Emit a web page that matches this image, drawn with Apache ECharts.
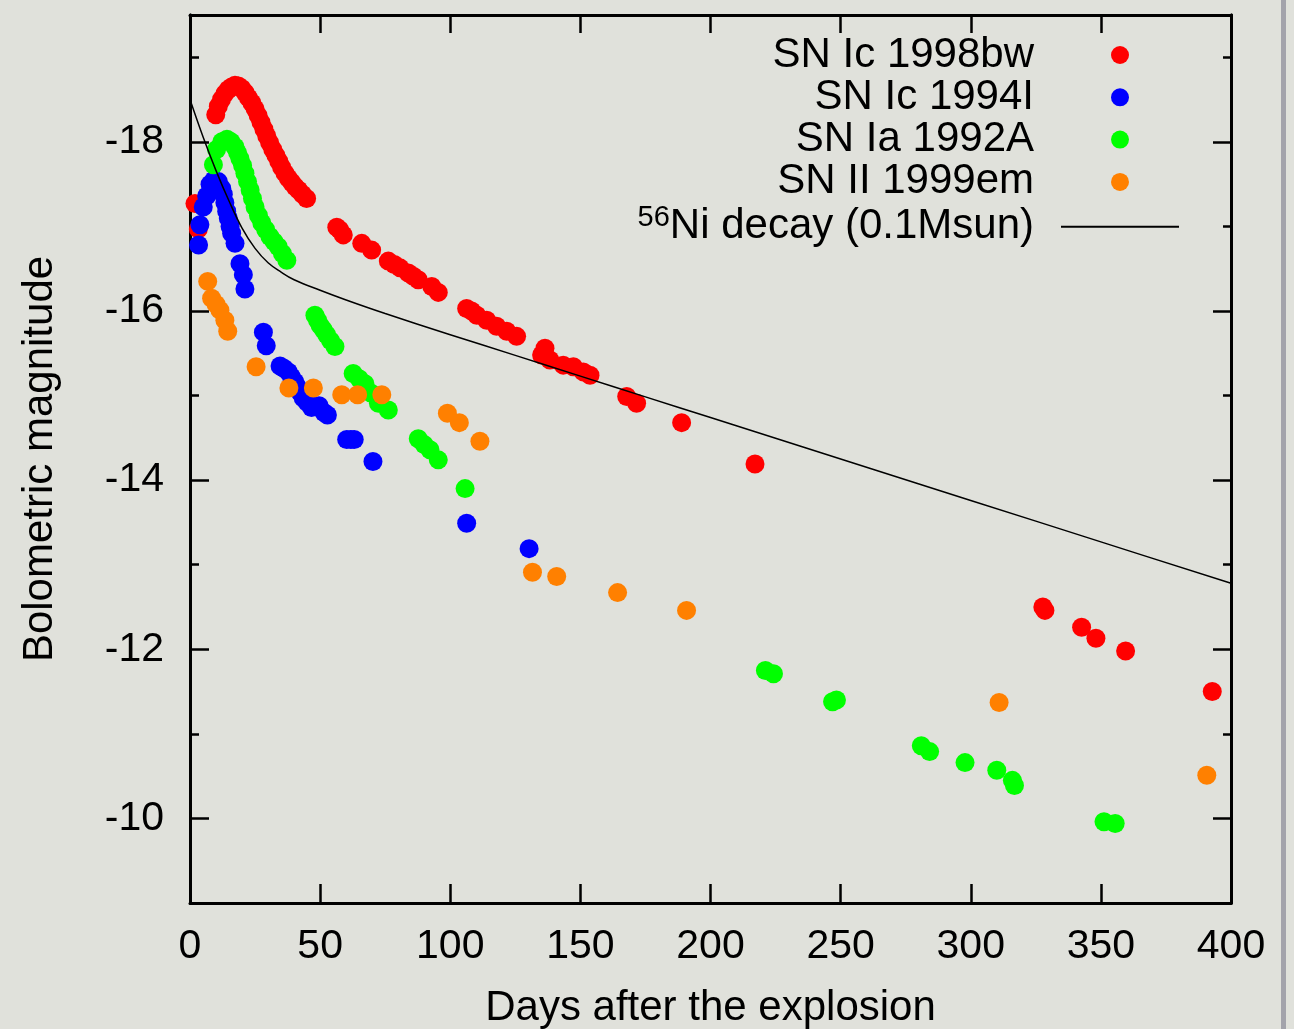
<!DOCTYPE html>
<html>
<head>
<meta charset="utf-8">
<title>Bolometric light curves</title>
<script src="https://cdn.jsdelivr.net/npm/echarts@6/dist/echarts.min.js"></script>
<style>
  html, body { margin: 0; padding: 0; background: #e0e1db; }
  #chart { width: 1294px; height: 1029px; }
</style>
</head>
<body>
<div id="chart"></div>
<script>
  // [days after explosion, bolometric magnitude]
  var sn1998bw = [
    [1.9,-17.27],[3.2,-16.97],
    [9.9,-18.32],[10.9,-18.42],[12.1,-18.50],[13.4,-18.57],[14.7,-18.62],[16,-18.65],[17.3,-18.67],[18.6,-18.66],
    [19.9,-18.63],[21.2,-18.58],[22.5,-18.52],[23.8,-18.46],[25,-18.39],[26.2,-18.31],[27.3,-18.23],[28.4,-18.15],
    [29.5,-18.07],[30.6,-17.99],[31.8,-17.91],[33,-17.84],[34.1,-17.77],[35.2,-17.70],[36.5,-17.63],[37.8,-17.57],
    [39.1,-17.52],[40.4,-17.47],[41.7,-17.43],[43.2,-17.38],[44.8,-17.33],
    [56.4,-16.99],[57.5,-16.96],[58.9,-16.90],[66,-16.80],[69.8,-16.72],[76.2,-16.59],[78.5,-16.55],[80.7,-16.51],
    [83.9,-16.45],[85.8,-16.41],[87.7,-16.37],[92.9,-16.29],[95.4,-16.22],[106.3,-16.03],[108.2,-16.00],[110.2,-15.95],
    [114,-15.89],[117.8,-15.82],[121.7,-15.76],[125.5,-15.70],[135.1,-15.48],[136.4,-15.56],[138.3,-15.42],[143.4,-15.36],
    [147.3,-15.34],[151.1,-15.28],[153.7,-15.24],[167.8,-14.99],[171.6,-14.91],[188.9,-14.68],[217.1,-14.19],
    [327.7,-12.50],[328.5,-12.46],[342.6,-12.26],[348.1,-12.13],[359.5,-11.98],[392.8,-11.50]
  ];
  var sn1994I = [
    [3.3,-16.78],[3.8,-17.02],[5.1,-17.23],[6.4,-17.36],[7.7,-17.50],[9.2,-17.55],[10.9,-17.53],[12.2,-17.45],
    [12.8,-17.38],[13.4,-17.28],[14.1,-17.18],[14.7,-17.10],[15.4,-17.00],[16,-16.92],[17.3,-16.80],[19.2,-16.56],
    [20.5,-16.43],[21.1,-16.26],
    [28.2,-15.75],[29.3,-15.59],[34.6,-15.35],[36.2,-15.32],[37.8,-15.28],[39,-15.22],[40.3,-15.16],[41.3,-15.10],
    [42.3,-15.04],[43.5,-14.97],[45,-14.92],[46.7,-14.86],[49.6,-14.88],[51.5,-14.80],[52.8,-14.77],
    [60.2,-14.48],[61.8,-14.48],[63.1,-14.48],[70.3,-14.22],[106.3,-13.49],[130.3,-13.19]
  ];
  var sn1992A = [
    [9.0,-17.73],[10.2,-17.91],[12.2,-18.00],[14.2,-18.03],[15.8,-18.00],[17.3,-17.94],[18.3,-17.87],[19.2,-17.80],
    [20.2,-17.72],[21.1,-17.63],[22.1,-17.53],[23.1,-17.43],[24,-17.33],[25,-17.23],[26.3,-17.13],[27.6,-17.04],
    [29.1,-16.96],[30.7,-16.88],[32.3,-16.82],[33.9,-16.76],[35.5,-16.68],[37.2,-16.60],
    [48,-15.95],[49,-15.89],[50,-15.83],[51.2,-15.78],[52.5,-15.72],[54,-15.65],[55.7,-15.58],
    [62.7,-15.26],[65,-15.20],[67.2,-15.14],[69.5,-15.03],[72.4,-14.91],[76.2,-14.83],
    [87.7,-14.49],[90,-14.42],[92.2,-14.36],[95.4,-14.24],[105.7,-13.90],
    [221.1,-11.75],[224.2,-11.71],[246.9,-11.38],[248.4,-11.40],[281,-10.86],[284.2,-10.79],[297.8,-10.66],
    [310,-10.57],[316,-10.45],[316.8,-10.39],[351.2,-9.96],[355.5,-9.94]
  ];
  var sn1999em = [
    [6.8,-16.35],[8.3,-16.15],[10,-16.08],[11.5,-16.01],[13.4,-15.89],[14.5,-15.76],[25.4,-15.34],[38,-15.09],
    [47.4,-15.09],[58.3,-15.01],[64.4,-15.01],[73.7,-15.01],[98.9,-14.79],[103.5,-14.68],[111.4,-14.46],
    [131.6,-12.91],[140.9,-12.86],[164.3,-12.67],[190.8,-12.46],[310.9,-11.37],[390.7,-10.51]
  ];
  var niDecay = [
    [0,-18.50],[5,-18.06],[10,-17.66],[15,-17.30],[20,-16.98],[25,-16.74],[30,-16.57],[35,-16.46],[40,-16.37],
    [50,-16.245],[60,-16.13],[75,-15.97],[100,-15.72],[125,-15.475],[150,-15.23],[175,-14.985],[200,-14.74],
    [250,-14.25],[300,-13.76],[350,-13.27],[400,-12.78]
  ];
  var seriesNames = ['SN Ic 1998bw', 'SN Ic 1994I', 'SN Ia 1992A', 'SN II 1999em', 'Ni decay (0.1Msun)'];
  var seriesColors = ['#ff0000', '#0000ff', '#00ff00', '#ff8000', '#000000'];
  var xTicks = [0, 50, 100, 150, 200, 250, 300, 350, 400];

  var font = "'Liberation Sans', Arial, Helvetica, sans-serif";
  var chart = echarts.init(document.getElementById('chart'), null, {renderer: 'canvas'});

  function yAxisDef(pos, len, split, withLabel) {
    return {
      type: 'value', position: pos, inverse: true, min: -19.5, max: -9, splitNumber: split,
      axisLine: {show: true, lineStyle: {color: '#000', width: 3}},
      axisTick: {show: true, inside: true, length: len, lineStyle: {color: '#000', width: 2.5}},
      axisLabel: withLabel ? {
        show: true, fontSize: 41, color: '#000', fontFamily: font, margin: 26,
        formatter: function (v) { return (Number.isInteger(v) && v % 2 === 0) ? String(v) : ''; }
      } : {show: false},
      splitLine: {show: false},
      name: withLabel ? 'Bolometric magnitude' : '',
      nameLocation: 'middle', nameGap: 129,
      nameTextStyle: {fontSize: 42, color: '#000', fontFamily: font}
    };
  }
  function xAxisDef(pos, len, withLabel) {
    return {
      type: 'value', position: pos, min: xTicks[0], max: xTicks[xTicks.length - 1], interval: 50,
      axisLine: {show: true, lineStyle: {color: '#000', width: 3}},
      axisTick: {show: true, inside: true, length: len, lineStyle: {color: '#000', width: 2.5}},
      axisLabel: withLabel ? {show: true, fontSize: 41, color: '#000', fontFamily: font, margin: 23} : {show: false},
      splitLine: {show: false},
      name: withLabel ? 'Days after the explosion' : '',
      nameLocation: 'middle', nameGap: 84,
      nameTextStyle: {fontSize: 42, color: '#000', fontFamily: font}
    };
  }

  var dataSets = [sn1998bw, sn1994I, sn1992A, sn1999em];
  var series = dataSets.map(function (d, i) {
    return {
      name: seriesNames[i], type: 'scatter', data: d, symbol: 'circle', symbolSize: 19,
      itemStyle: {color: seriesColors[i], opacity: 1}, z: 2 + i
    };
  });
  series.push({
    name: seriesNames[4], type: 'line', data: niDecay, smooth: 0.4, symbol: 'none', z: 10,
    lineStyle: {color: '#000', width: 1.5}, itemStyle: {color: '#000'}
  });

  var option = {
    animation: false,
    backgroundColor: '#e0e1db',
    textStyle: {fontFamily: font},
    grid: {left: 190, right: 63, top: 15, bottom: 126, containLabel: false, outerBoundsMode: 'none'},
    xAxis: [xAxisDef('bottom', 19, true), xAxisDef('top', 18, false)],
    yAxis: [
      yAxisDef('left', 19, 5, true),
      yAxisDef('left', 9, 10, false),
      yAxisDef('right', 18, 5, false),
      yAxisDef('right', 8, 10, false)
    ],
    legend: {
      orient: 'vertical', align: 'right', right: 114, top: 34, padding: 0,
      itemWidth: 118, itemHeight: 18, itemGap: 0.3,
      data: seriesNames.map(function (n, i) {
        return i === 4 ? {name: n, itemStyle: {opacity: 0}} : {name: n};
      }),
      formatter: function (n) {
        return n === seriesNames[4] ? '{sup|56}{main|' + n + '}' : n;
      },
      textStyle: {
        fontSize: 42, lineHeight: 42, color: '#000', fontFamily: font, padding: [0, 22, 0, 0],
        rich: {
          sup: {fontSize: 29, lineHeight: 29, verticalAlign: 'top', color: '#000', fontFamily: font},
          main: {fontSize: 42, lineHeight: 47, color: '#000', fontFamily: font}
        }
      }
    },
    graphic: [{
      type: 'rect', left: 1281, top: 0, shape: {width: 5, height: 1029},
      style: {fill: '#a3a3ab'}, silent: true
    }],
    series: series
  };
  chart.setOption(option);
</script>
</body>
</html>
